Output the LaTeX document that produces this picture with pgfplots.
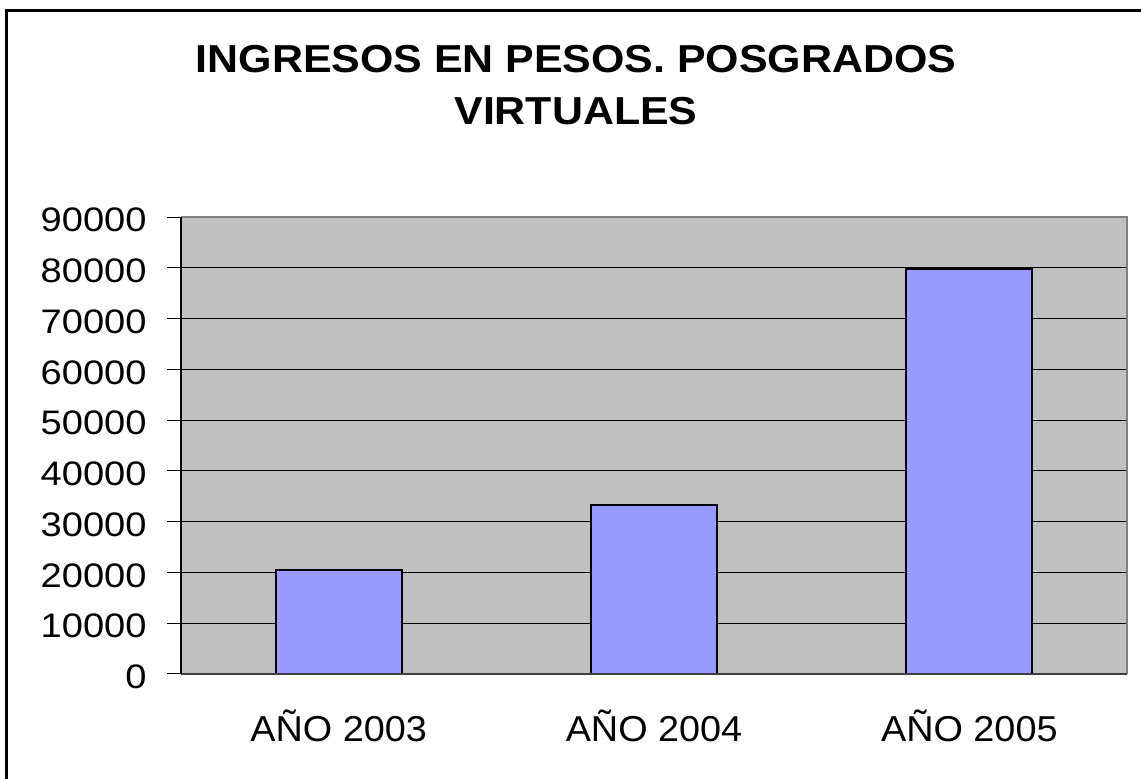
\documentclass[border=0pt]{standalone}
\usepackage{fontspec}
\setmainfont{Liberation Sans}
\usepackage{pgfplots}
\pgfplotsset{compat=1.18}
\newfontfamily\ylabfont[FakeStretch=1.12]{Liberation Sans}
\newfontfamily\xlabfont[FakeStretch=1.05]{Liberation Sans}
\newfontfamily\titlefont[FakeStretch=1.1]{Liberation Sans}
\definecolor{plotbg}{RGB}{192,192,192}
\definecolor{barfill}{RGB}{153,153,255}
\definecolor{edgegray}{RGB}{128,128,128}
\begin{document}
\begin{tikzpicture}
\useasboundingbox (0,0) rectangle (570.5pt,389.5pt);
\fill[white] (0,0) rectangle (570.5pt,389.5pt);
\draw[black,line width=1.25pt] (3.25pt,0) -- (3.25pt,384.25pt) -- (570.5pt,384.25pt);
\node[anchor=base,font=\titlefont\bfseries\fontsize{19.5}{22}\selectfont] at (288pt,353pt) {INGRESOS EN PESOS. POSGRADOS};
\node[anchor=base,font=\titlefont\bfseries\fontsize{19.5}{22}\selectfont] at (288pt,327pt) {VIRTUALES};
\begin{axis}[
  at={(90.5pt,52.5pt)}, anchor=south west,
  scale only axis, width=473pt, height=228.5pt,
  xmin=-0.5, xmax=2.5, ymin=0, ymax=90000,
  axis background/.style={fill=plotbg},
  axis line style={draw=none},
  ymajorgrids, grid style={black,line width=0.5pt},
  tick align=outside, xtick pos=left, ytick pos=left,
  ytick={0,10000,...,90000},
  scaled y ticks=false,
  yticklabel={\pgfmathprintnumber[fixed,precision=0,1000 sep={}]{\tick}},
  ytick style={black,line width=0.5pt},
  major tick length=7pt,
  minor tick length=6.5pt,
  /pgf/number format/1000 sep={},
  /pgf/number format/assume math mode=true,
  yticklabel style={font=\ylabfont\fontsize{17}{19}\selectfont, anchor=east, inner sep=0pt, xshift=-10pt, yshift=-1.5pt},
  xtick={0,1,2},
  xticklabels={AÑO 2003,AÑO 2004,AÑO 2005},
  xtick style={draw=none},
  minor xtick={-0.5,0.5,1.5,2.5},
  minor tick style={black,line width=0.5pt},
  xticklabel style={font=\xlabfont\fontsize{18}{20}\selectfont, anchor=base, inner sep=0pt, yshift=-27pt},
  clip=false,
]
\addplot[ybar, bar width=0.4, fill=barfill, draw=black, line width=1pt] coordinates {(0,20400) (1,33300) (2,79800)};
\draw[edgegray,line width=1pt] (rel axis cs:0,1) -- (rel axis cs:1,1) -- (rel axis cs:1,0);
\draw[black!75,line width=0.75pt] (rel axis cs:0,0) -- (rel axis cs:1,0);
\draw[black,line width=0.75pt] (rel axis cs:0,0) -- (rel axis cs:0,1);
\end{axis}
\end{tikzpicture}
\end{document}
